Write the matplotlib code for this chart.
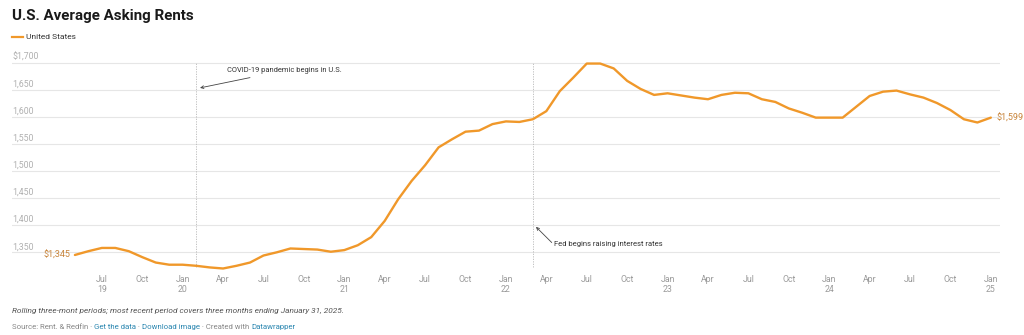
import numpy as np
import pandas as pd
import matplotlib
matplotlib.use("Agg")
import matplotlib.pyplot as plt
import matplotlib.transforms as mtransforms

plt.rcParams['font.family'] = ['Roboto', 'DejaVu Sans']

# Monthly average asking rent, U.S. (rolling three-month periods)
months = pd.date_range('2019-05-01', '2025-01-01', freq='MS')
rents = [
    1345, 1352, 1358, 1358, 1352, 1341, 1331, 1327, 1327, 1325,
    1322, 1320, 1325, 1331, 1344, 1350, 1357, 1356, 1355, 1351,
    1354, 1363, 1378, 1408, 1448, 1482, 1511, 1544, 1559, 1573,
    1575, 1587, 1592, 1591, 1596, 1611, 1648, 1673, 1699, 1699,
    1690, 1667, 1652, 1641, 1644, 1640, 1636, 1633, 1641, 1645,
    1644, 1633, 1628, 1616, 1608, 1599, 1599, 1599, 1619, 1639,
    1647, 1649, 1642, 1636, 1626, 1613, 1596, 1590, 1599,
]
series_name = 'United States'
y_ticks = [1350, 1400, 1450, 1500, 1550, 1600, 1650, 1700]

event_months = ['2020-02', '2022-03']
event_labels = ['COVID-19 pandemic begins in U.S.', 'Fed begins raising interest rates']

ORANGE = '#f0982a'
LABEL_ORANGE = '#c8843a'
GRID = '#e6e6e6'
TICK_GREY = '#9a9a9a'
LINK = '#2a86b0'

W, H = 1024, 335
fig = plt.figure(figsize=(W / 100, H / 100), dpi=100)
fig.patch.set_facecolor('white')

# axes placed in pixel terms
ax_l, ax_r, ax_t, ax_b = 12, 1000, 54.9, 273.9
ax = fig.add_axes([ax_l / W, 1 - ax_b / H, (ax_r - ax_l) / W, (ax_b - ax_t) / H])
ax.set_facecolor('white')

x = np.arange(len(months))
ax.set_xlim(-4.67, 68.68)
ax.set_ylim(1310, 1715)

for v in y_ticks:
    ax.axhline(v, color=GRID, lw=0.8, zorder=1)

ax.plot(x, rents, color=ORANGE, lw=1.7, solid_joinstyle='round',
        solid_capstyle='round', zorder=4, clip_on=False)

# y labels sit above their gridlines, flush left
ytrans = mtransforms.blended_transform_factory(ax.transAxes, ax.transData)
for v in y_ticks:
    lab = f'${v:,}' if v == y_ticks[-1] else f'{v:,}'
    ax.annotate(lab, xy=(0, v), xycoords=ytrans, xytext=(0, 2.2),
                textcoords='offset points', ha='left', va='baseline',
                fontsize=6.3, color='#b0b0b0')

# x ticks every quarter
tick_idx = [i for i, m in enumerate(months) if m.month in (1, 4, 7, 10)]
tick_lab = []
for i in tick_idx:
    m = months[i]
    if m.month == 1 or i == tick_idx[0]:
        tick_lab.append(f"{m.strftime('%b')}\n{m.strftime('%y')}")
    else:
        tick_lab.append(m.strftime('%b'))
ax.set_xticks(tick_idx)
ax.set_xticklabels(tick_lab, fontsize=6.3, color=TICK_GREY, linespacing=1.15)
ax.tick_params(axis='x', length=0, pad=1)
ax.set_yticks([])
for sp in ax.spines.values():
    sp.set_visible(False)

# event markers
ev_x = [list(months.strftime('%Y-%m')).index(e) for e in event_months]
for ex in ev_x:
    ax.vlines(ex, 1323, 1700, colors='#b8b8b8', lw=0.6,
              linestyles=(0, (1.5, 1.5)), zorder=2)

ax.annotate('', xy=(ev_x[0] + 0.29, 1654), xytext=(ev_x[0] + 4.0, 1673),
            arrowprops=dict(arrowstyle='->', color='#444444', lw=0.6,
                            mutation_scale=5, shrinkA=0, shrinkB=0))
ax.text(ev_x[0] + 2.29, 1686, event_labels[0], fontsize=5.4,
        color='#333333', ha='left', va='center')

ax.annotate('', xy=(ev_x[1] + 0.23, 1397), xytext=(ev_x[1] + 1.4, 1368),
            arrowprops=dict(arrowstyle='->', color='#444444', lw=0.6,
                            mutation_scale=5, shrinkA=0, shrinkB=0))
ax.text(ev_x[1] + 1.57, 1365, event_labels[1], fontsize=5.5,
        color='#333333', ha='left', va='center')

# first / last value labels
ax.annotate(f'${rents[0]:,}', xy=(x[0], rents[0]), xytext=(-3.5, 0),
            textcoords='offset points', ha='right', va='center',
            fontsize=6.5, color=LABEL_ORANGE)
ax.annotate(f'${rents[-1]:,}', xy=(x[-1], rents[-1]), xytext=(4, 0),
            textcoords='offset points', ha='left', va='center',
            fontsize=6.5, color=LABEL_ORANGE, annotation_clip=False)

# header
fig.text(12 / W, 1 - 16 / H, 'U.S. Average Asking Rents', fontsize=10.9,
         fontweight='bold', color='#1a1a1a', ha='left', va='center')
fig.add_artist(plt.Line2D([12 / W, 23 / W], [1 - 37 / H, 1 - 37 / H],
                          color=ORANGE, lw=1.6))
fig.text(26 / W, 1 - 37 / H, series_name, fontsize=6.0, color='#333333',
         ha='left', va='center')

# footer
fig.text(12 / W, 1 - 311 / H,
         'Rolling three-mont periods; most recent period covers three months ending January 31, 2025.',
         fontsize=5.95, style='italic', color='#555555', ha='left', va='center')

pieces = [('Source: Rent. & Redfin · ', '#888888'), ('Get the data', LINK),
          (' · ', '#888888'), ('Download image', LINK),
          (' · Created with ', '#888888'), ('Datawrapper', LINK)]
prev = fig.text(12 / W, 1 - 330 / H, pieces[0][0], fontsize=5.6,
                color=pieces[0][1], ha='left', va='bottom')
for txt, col in pieces[1:]:
    prev = ax.annotate(txt, xy=(1, 0), xycoords=prev, ha='left', va='bottom',
                       fontsize=5.6, color=col, annotation_clip=False)

fig.savefig('out.png', dpi=100, facecolor='white')
